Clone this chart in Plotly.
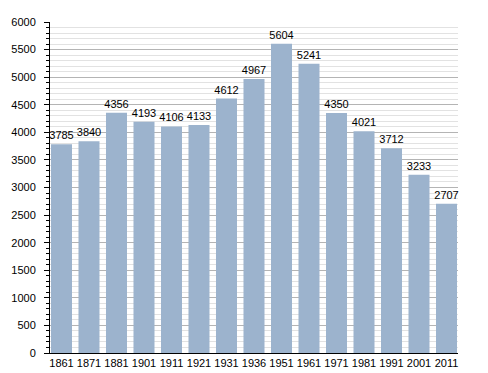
import plotly.graph_objects as go

years = ["1861", "1871", "1881", "1901", "1911", "1921", "1931", "1936",
         "1951", "1961", "1971", "1981", "1991", "2001", "2011"]
population = [3785, 3840, 4356, 4193, 4106, 4133, 4612, 4967,
              5604, 5241, 4350, 4021, 3712, 3233, 2707]
y_ticks = list(range(0, 6001, 500))

fig = go.Figure()
fig.add_trace(go.Bar(
    x=list(range(len(years))),
    y=population,
    text=[str(v) for v in population],
    textposition="outside",
    constraintext="none",
    textfont=dict(family="Liberation Sans, Arial, sans-serif", size=11, color="#000000"),
    marker=dict(color="#9cb3cd", line=dict(width=0)),
    cliponaxis=False,
    hoverinfo="skip",
))

# page body has an 8px default margin, so the figure is sized to fit the window
fig.update_layout(
    width=480, height=365,
    margin=dict(l=42, r=30, t=14, b=20, pad=0),
    paper_bgcolor="white",
    plot_bgcolor="white",
    bargap=0.236,
    showlegend=False,
    font=dict(family="Liberation Sans, Arial, sans-serif", size=11, color="#000000"),
)
fig.update_xaxes(
    tickmode="array",
    tickvals=list(range(len(years))),
    ticktext=years,
    range=[-0.418, len(years) - 1 + 0.418],
    showline=True, linecolor="#000000", linewidth=1,
    ticks="", showgrid=False, zeroline=False,
    tickfont=dict(size=11),
    automargin=False,
)
fig.update_yaxes(
    range=[0, 6000],
    tickmode="array",
    tickvals=y_ticks,
    ticktext=[str(v) for v in y_ticks],
    showline=True, linecolor="#000000", linewidth=1,
    ticks="outside", ticklen=5, tickcolor="#000000", tickwidth=1,
    ticklabelstandoff=6,
    showgrid=True, gridcolor="#b4b4b4", gridwidth=1,
    zeroline=False,
    tickfont=dict(size=11),
    automargin=False,
    minor=dict(dtick=100, showgrid=True, gridcolor="#e2e2e2", gridwidth=1,
               ticks="outside", ticklen=3, tickcolor="#000000"),
)

fig.write_html("out.html")
